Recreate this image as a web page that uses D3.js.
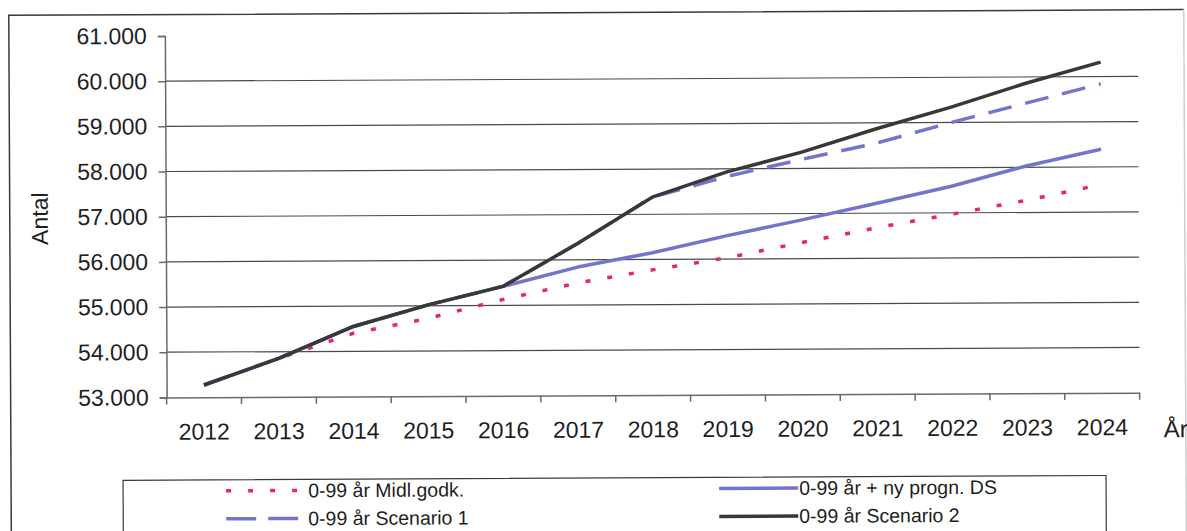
<!DOCTYPE html>
<html>
<head>
<meta charset="utf-8">
<script src="https://d3js.org/d3.v7.min.js"></script>
<style>
  body { margin: 0; background: #fff; }
  svg { display: block; font-family: "Liberation Sans", Arial, sans-serif; }
</style>
</head>
<body>
<div id="chart"></div>
<script>
const width = 1187;
const height = 531;

// data
const years = ['2012', '2013', '2014', '2015', '2016', '2017', '2018', '2019', '2020', '2021', '2022', '2023', '2024'];
const midlGodk = [53270, 53850, 54400, 54720, 55130, 55490, 55770, 56030, 56360, 56680, 56970, 57270, 57610];
const nyProgn = [53270, 53850, 54550, 55020, 55420, 55840, 56150, 56520, 56860, 57220, 57590, 58030, 58390];
const scenario1 = [53270, 53850, 54550, 55020, 55420, 56360, 57380, 57830, 58200, 58550, 59000, 59420, 59840];
const scenario2 = [53270, 53850, 54550, 55020, 55420, 56360, 57380, 57930, 58360, 58870, 59340, 59860, 60320];
const yTicks = [53000, 54000, 55000, 56000, 57000, 58000, 59000, 60000, 61000];

const series = [
  { name: '0-99 år Midl.godk.', values: midlGodk, color: '#e2286a', dash: '5,17', legendDash: '5,17', col: 0, row: 0 },
  { name: '0-99 år + ny progn. DS', values: nyProgn, color: '#7474cf', dash: null, legendDash: null, col: 1, row: 0 },
  { name: '0-99 år Scenario 1', values: scenario1, color: '#7474cf', dash: '24,14', legendDash: '30,12', col: 0, row: 1 },
  { name: '0-99 år Scenario 2', values: scenario2, color: '#383838', dash: null, legendDash: null, col: 1, row: 1 }
];

const fmt = d3.formatLocale({ decimal: ',', thousands: '.', grouping: [3], currency: ['', ' kr'] }).format(',.0f');

const svg = d3.select('#chart').append('svg')
  .attr('width', width)
  .attr('height', height);

// the scan is slightly tilted
const g = svg.append('g').attr('transform', 'rotate(-0.28, 593, 265)');

// outer frame: dark top and left, faint right edge
g.append('path')
  .attr('d', 'M10,620 L10,12.5 L1185,12.5')
  .attr('fill', 'none').attr('stroke', '#3a3a3a').attr('stroke-width', 1.5);
g.append('line')
  .attr('x1', 1185).attr('x2', 1185).attr('y1', 12.5).attr('y2', 620)
  .attr('stroke', '#cfcfcf').attr('stroke-width', 1.5);

const x = d3.scaleBand().domain(years).range([166, 1139]).padding(0);
const y = d3.scaleLinear().domain([53000, 61000]).range([395.3, 33.9]);
const cx = d => x(d) + x.bandwidth() / 2;

// gridlines
g.append('g').selectAll('line')
  .data(yTicks.filter(v => v > 53000 && v < 61000))
  .join('line')
  .attr('x1', 166).attr('x2', 1139)
  .attr('y1', d => y(d)).attr('y2', d => y(d))
  .attr('stroke', '#4a4a4a').attr('stroke-width', 1.2);

// y axis
const yAxis = g.append('g')
  .attr('transform', 'translate(166,0)')
  .call(d3.axisLeft(y).tickValues(yTicks).tickSize(7).tickPadding(11).tickFormat(fmt));
yAxis.selectAll('path, line').attr('stroke', '#6a6a6a').attr('stroke-width', 1.5);
yAxis.selectAll('text').attr('font-size', 23).attr('fill', '#1e1e1e').attr('font-family', null);

// x axis
const xAxis = g.append('g')
  .attr('transform', 'translate(0,395.3)')
  .call(d3.axisBottom(x).tickSize(0).tickPadding(26));
xAxis.select('path').attr('stroke', '#6a6a6a').attr('stroke-width', 1.5);
xAxis.selectAll('text').attr('font-size', 23).attr('fill', '#1e1e1e').attr('font-family', null);
xAxis.selectAll('.bound')
  .data(d3.range(years.length + 1))
  .join('line')
  .attr('class', 'bound')
  .attr('x1', i => 166 + i * x.step()).attr('x2', i => 166 + i * x.step())
  .attr('y1', 0).attr('y2', 7)
  .attr('stroke', '#6a6a6a').attr('stroke-width', 1.5);

// axis titles
g.append('text')
  .attr('transform', 'translate(48,216) rotate(-90)')
  .attr('text-anchor', 'middle')
  .attr('font-size', 23).attr('fill', '#1e1e1e')
  .text('Antal');
g.append('text')
  .attr('x', 1163).attr('y', 440)
  .attr('font-size', 24).attr('fill', '#1e1e1e')
  .text('År');

// lines
const line = d3.line()
  .x((d, i) => cx(years[i]))
  .y(d => y(d));

g.append('g').selectAll('path')
  .data(series)
  .join('path')
  .attr('d', d => line(d.values))
  .attr('fill', 'none')
  .attr('stroke', d => d.color)
  .attr('stroke-width', 3.5)
  .attr('stroke-linejoin', 'round')
  .attr('stroke-dasharray', d => d.dash);

// legend
const legend = g.append('g');
legend.append('rect')
  .attr('x', 122).attr('y', 478)
  .attr('width', 983).attr('height', 80)
  .attr('fill', '#fff').attr('stroke', '#3a3a3a').attr('stroke-width', 1.2);

const colX = [225, 718];
const sampleW = [78, 79];
const rowY = [489, 517];

const item = legend.selectAll('.item')
  .data(series)
  .join('g')
  .attr('class', 'item')
  .attr('transform', d => `translate(${colX[d.col]},${rowY[d.row]})`);
item.append('line')
  .attr('x1', 0).attr('x2', d => sampleW[d.col])
  .attr('y1', 0).attr('y2', 0)
  .attr('stroke', d => d.color)
  .attr('stroke-width', 3.5)
  .attr('stroke-dasharray', d => d.legendDash);
item.append('text')
  .attr('x', d => d.col === 0 ? 82 : 80)
  .attr('y', 0).attr('dy', '0.35em')
  .attr('font-size', 19.5).attr('fill', '#1e1e1e')
  .text(d => d.name);
</script>
</body>
</html>
